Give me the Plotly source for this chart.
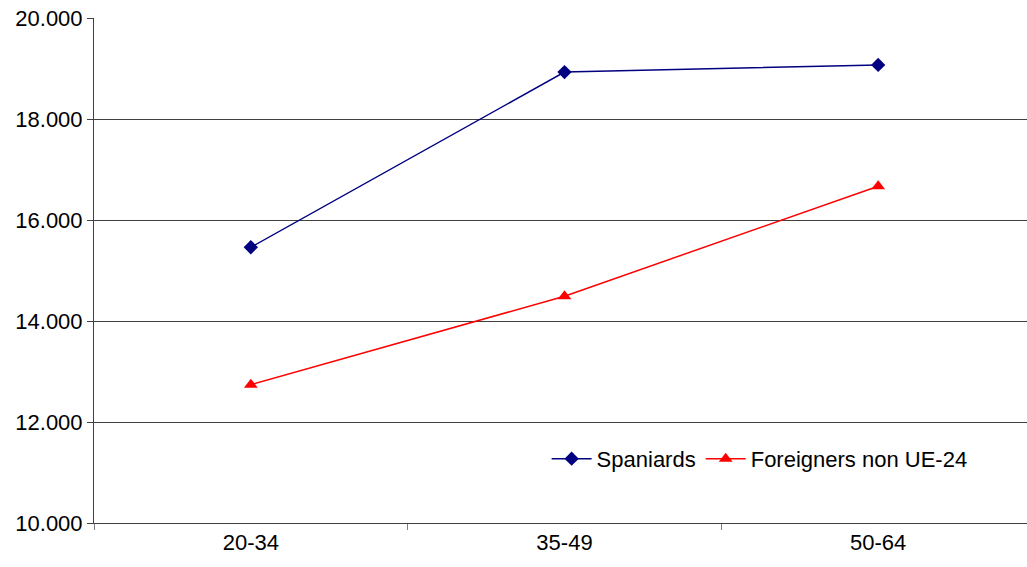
import plotly.graph_objects as go

categories = ["20-34", "35-49", "50-64"]
spaniards = [15460, 18930, 19070]
foreigners = [12740, 14490, 16670]
y_ticks = [10000, 12000, 14000, 16000, 18000, 20000]
y_tick_labels = ["10.000", "12.000", "14.000", "16.000", "18.000", "20.000"]

FONT = "Arial, Liberation Sans, sans-serif"

fig = go.Figure()
fig.add_trace(go.Scatter(
    x=categories, y=spaniards, name="Spaniards", mode="lines+markers",
    line=dict(color="#000080", width=1.5),
    marker=dict(symbol="diamond", size=11, color="#000080"),
))
fig.add_trace(go.Scatter(
    x=categories, y=foreigners, name="Foreigners non UE-24", mode="lines+markers",
    line=dict(color="#FF0000", width=1.5),
    marker=dict(symbol="triangle-up", size=12, color="#FF0000"),
))

fig.update_layout(
    width=1035, height=567,
    margin=dict(l=94, r=0, t=18, b=44, autoexpand=False),
    paper_bgcolor="white", plot_bgcolor="white",
    font=dict(family=FONT, size=22, color="black"),
    legend=dict(
        orientation="h", x=0.481, y=0.127, xanchor="left", yanchor="middle",
        bgcolor="rgba(0,0,0,0)", font=dict(size=22), itemwidth=40,
    ),
    xaxis=dict(
        type="category", range=[-0.5, 2.5], showgrid=False, automargin=False,
        showline=True, linecolor="#404040", linewidth=1,
        ticks="outside", tickson="boundaries", ticklen=6, tickcolor="#808080",
        tickfont=dict(size=22), zeroline=False,
    ),
    yaxis=dict(
        range=[10000, 20000], tickvals=y_ticks, ticktext=y_tick_labels, automargin=False,
        ticklabeloverflow="allow",
        showgrid=True, gridcolor="#404040", gridwidth=1,
        showline=True, linecolor="#404040", linewidth=1,
        ticks="outside", ticklen=6, tickcolor="#404040",
        tickfont=dict(size=22), zeroline=False,
    ),
)

fig.write_html(
    "out.html",
    config={"displayModeBar": False},
    post_script="document.body.style.margin='0';document.body.style.overflow='hidden';",
)
